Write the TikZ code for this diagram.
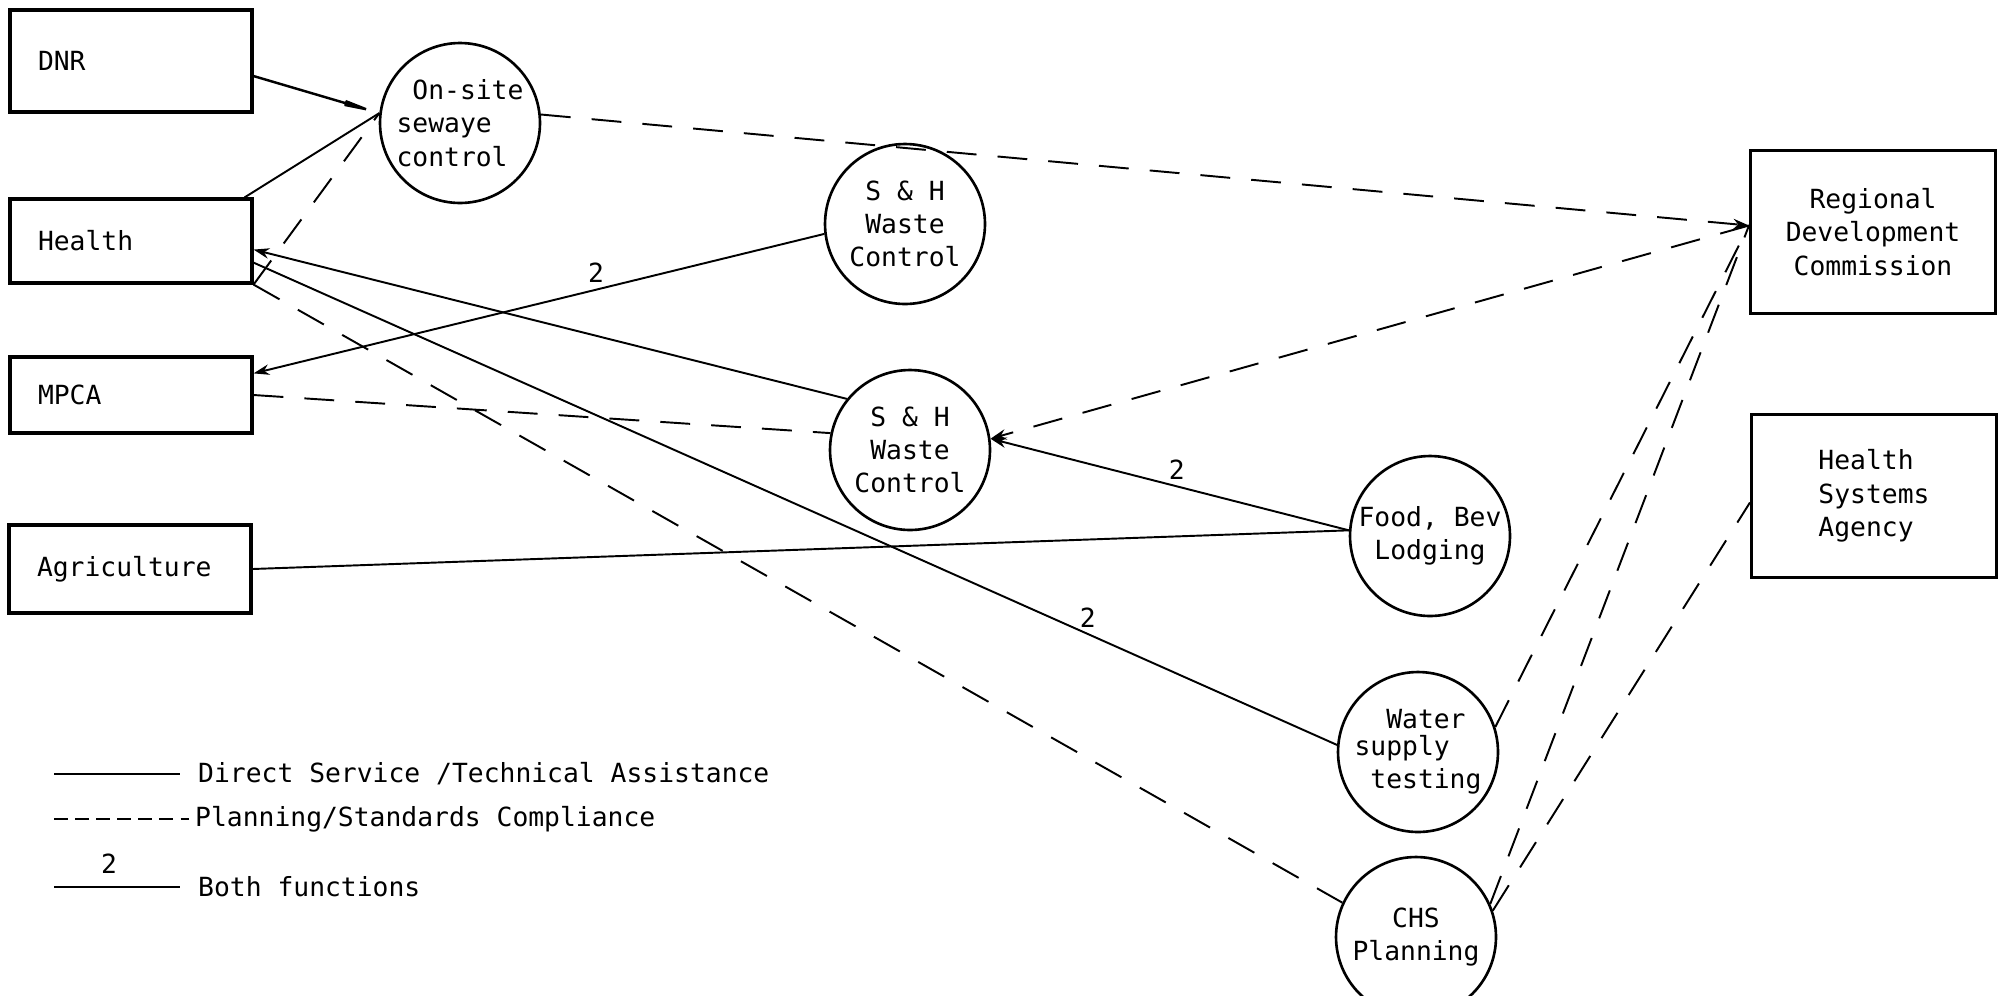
\documentclass[tikz,border=0pt]{standalone}
\usepackage{fontspec}
\setmainfont{DejaVu Sans Mono}
\usetikzlibrary{arrows.meta,calc,positioning}

\begin{document}
\begin{tikzpicture}[x=0.02cm, y=-0.02cm, >={Stealth[length=9pt, width=6pt]},
    agency/.style={draw, line width=1.8pt, minimum width=4.84cm, text width=3.72cm, inner xsep=0.56cm, align=left},
    office/.style={draw, line width=1.8pt, minimum width=4.9cm, minimum height=3.26cm},
    service/.style={draw, circle, line width=1.5pt, minimum size=3.2cm, inner sep=0pt, align=center},
    direct/.style={line width=1.1pt},
    plan/.style={line width=1.1pt, dash pattern=on 17pt off 12pt}]
	\tikzstyle{every node}=[font=\fontsize{15}{19}\selectfont]
	\clip (0,0) rectangle (2007,995);
	\useasboundingbox (0,0) rectangle (2007,995);
	% agencies
	\node [agency, minimum height=2.04cm] (dnr) at (131,61) {DNR};
	\node [agency, minimum height=1.68cm] (health) at (131,241) {Health};
	\node [agency, minimum height=1.52cm] (mpca) at (131,395) {MPCA};
	\node [agency, minimum height=1.76cm] (agri) at (130,569) {Agriculture};
	\node [office, align=center] (rdc) at (1873,232) {Regional\\Development\\Commission};
	\node [office, align=left] (hsa) at (1874,496) {Health\\Systems\\Agency};
	% services
	\node [service, align=left] (onsite) at (460,123) {\phantom{x}On-site\\sewaye\\control};
	\node [service] (sht) at (905,224) {S \& H\\Waste\\Control};
	\node [service] (shb) at (910,450) {S \& H\\Waste\\Control};
	\node [service] (food) at (1430,536) {Food, Bev\\Lodging};
	\node [service, align=left] (water) at (1418,752) {\phantom{xx}Water\\[-4pt]supply\\\phantom{x}testing};
	\node [service] (chs) at (1416,937) {CHS\\Planning};
	% direct service
	\draw [direct, line width=1.4pt, -{Stealth[length=28pt, width=5pt]}] (dnr.-7) -- (onsite.173);
	\draw [direct] (health.21) -- (onsite.173);
	\draw [direct, <-] (health.-4) -- (shb.141);
	\draw [direct] (health.-10) -- node [pos=0.77, above] (twowater) {2} (water.175);
	\draw [direct, <-] (mpca.10) -- node [pos=0.6, above] (twompca) {2} (sht.187);
	\draw [direct] (agri.east) -- (food.176);
	\draw [direct, ->] (food.176) -- node [pos=0.48, above] (twofood) {2} (shb.8);
	% planning / standards
	\draw [plan] (health.south east) -- (onsite.173);
	\draw [plan] (health.south east) -- (chs.155);
	\draw [plan] (mpca.east) -- (shb.168);
	\draw [plan, ->] (onsite.6) -- (rdc.177);
	\draw [plan, ->] (rdc.177) -- (shb.8);
	\draw [plan] (water.18) -- (rdc.177);
	\draw [plan] (chs.24) -- (rdc.177);
	\draw [plan] (chs.19) -- (hsa.183);
	% key
	\coordinate (keya) at (54,774);
	\coordinate (keyb) at (54,819);
	\coordinate (keyc) at (54,887);
	\node [anchor=west] (keyds) at (192,774) {Direct Service /Technical Assistance};
	\node [anchor=west] (keyps) at (189,819) {Planning/Standards Compliance};
	\node [anchor=west] (keybf) at (192,887) {Both functions};
	\node (keytwo) at (109,864) {2};
	\draw [direct] (keya) -- ([xshift=-7pt]keyds.west);
	\draw [plan, dash pattern=on 8pt off 4pt] (keyb) -- (keyps.west);
	\draw [direct] (keyc) -- ([xshift=-7pt]keybf.west);
\end{tikzpicture}
\end{document}
